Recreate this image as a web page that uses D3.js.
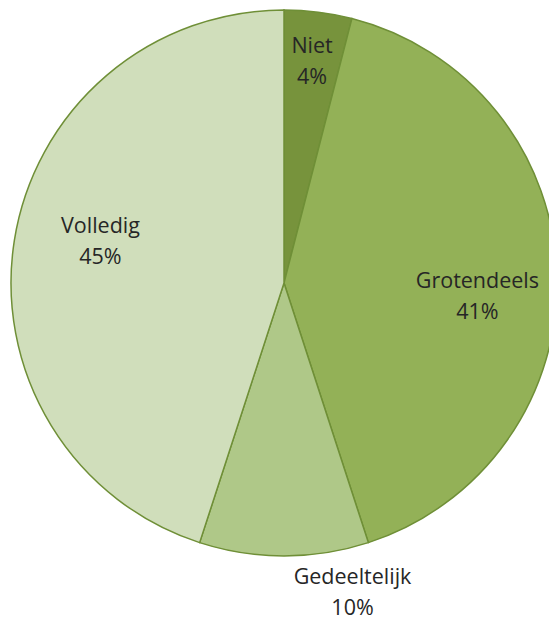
<!DOCTYPE html>
<html>
<head>
<meta charset="utf-8">
<script src="https://cdn.jsdelivr.net/npm/d3@7"></script>
<style>
  html, body { margin: 0; padding: 0; background: #fff; }
  #chart { width: 549px; height: 623px; }
  text { font-family: "Open Sans", sans-serif; font-size: 21.5px; fill: #262626; }
</style>
</head>
<body>
<div id="chart"></div>
<script>
//Datos
const categorias = ['Niet', 'Grotendeels', 'Gedeeltelijk', 'Volledig'];
const valores = [4, 41, 10, 45];
const etiquetas = ['4%', '41%', '10%', '45%'];

//Colores fijos
const COLORES = ['#77933C', '#93B157', '#AFC888', '#D0DEBB'];
const COLOR_BORDE = '#6F8F37';

let width = 549, height = 623,
    cx = 284, cy = 283, radius = 273;

let svg = d3.select('#chart')
    .append('svg')
      .attr('width', width)
      .attr('height', height)
    .append('g')
      .attr('transform', 'translate(' + cx + ',' + cy + ')');

let pie = d3.pie().sort(null).value(function(d) { return d; });
let arcs = pie(valores);

let arc = d3.arc().innerRadius(0).outerRadius(radius);

svg.selectAll('path')
    .data(arcs)
    .enter()
    .append('path')
    .attr('d', arc)
    .attr('fill', function(d, i) { return COLORES[i]; })
    .attr('stroke', COLOR_BORDE)
    .attr('stroke-width', 1.5);

//Posición de etiquetas (ajuste tipo "best fit")
let factorRadio = [0.82, 0.71, 1.16, 0.69];
let desfaseAngulo = [0, 5.6, -12.5, 4];

let labels = svg.selectAll('.label')
    .data(arcs)
    .enter()
    .append('text')
    .attr('class', 'label')
    .attr('text-anchor', 'middle')
    .attr('transform', function(d, i) {
        let a = (d.startAngle + d.endAngle) / 2 + desfaseAngulo[i] * Math.PI / 180;
        let r = radius * factorRadio[i];
        return 'translate(' + (r * Math.sin(a)) + ',' + (-r * Math.cos(a)) + ')';
    });

labels.append('tspan')
    .attr('x', 0)
    .attr('y', -8)
    .text(function(d, i) { return categorias[i]; });

labels.append('tspan')
    .attr('x', 0)
    .attr('y', 23)
    .text(function(d, i) { return etiquetas[i]; });
</script>
</body>
</html>
